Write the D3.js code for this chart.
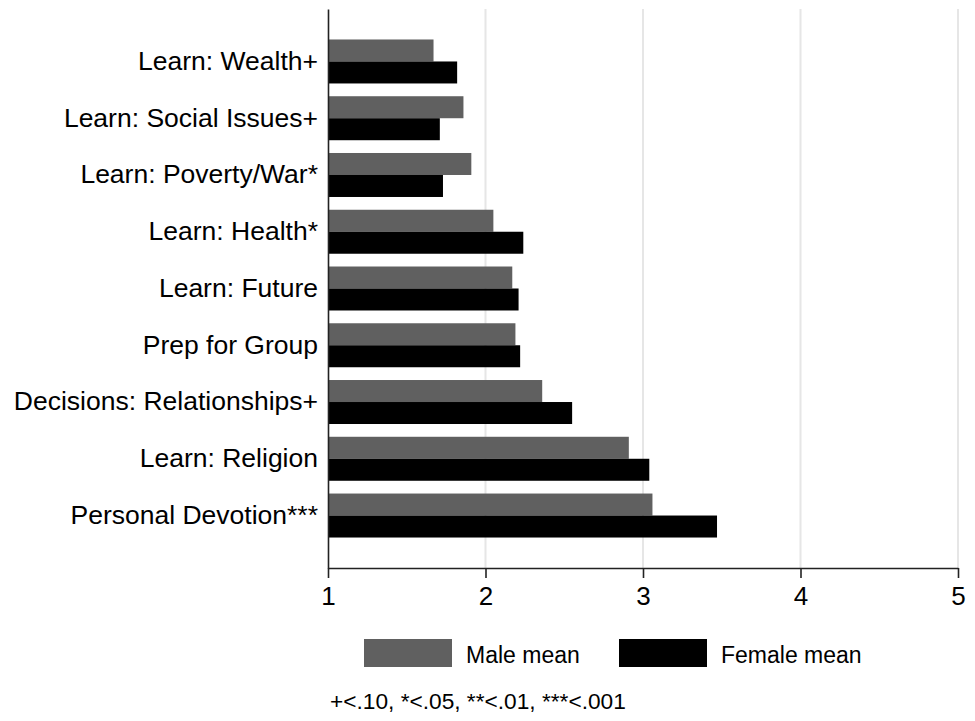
<!DOCTYPE html>
<html>
<head>
<meta charset="utf-8">
<script src="https://cdn.jsdelivr.net/npm/d3@7"></script>
<style>
  body { margin: 0; background: #fff; }
  text { font-family: "Liberation Sans", Arial, sans-serif; }
</style>
</head>
<body>
<div id="chart"></div>
<script>
// datos
const CATEGORIAS = ["Learn: Wealth+", "Learn: Social Issues+", "Learn: Poverty/War*", "Learn: Health*",
  "Learn: Future", "Prep for Group", "Decisions: Relationships+", "Learn: Religion", "Personal Devotion***"];
const MALE_MEAN = [1.67, 1.86, 1.91, 2.05, 2.17, 2.19, 2.36, 2.91, 3.06];
const FEMALE_MEAN = [1.82, 1.71, 1.73, 2.24, 2.21, 2.22, 2.55, 3.04, 3.47];
const X_TICKS = [1, 2, 3, 4, 5];
const SERIES = ["Male mean", "Female mean"];
const NOTA = "+<.10, *<.05, **<.01, ***<.001";

const WIDTH = 975, HEIGHT = 721;
const MARGIN = { top: 9, bottom: 153, left: 328, right: 17 };
const COLORES = ["#606060", "#000000"];

const svg = d3.select("#chart").append("svg").attr("width", WIDTH).attr("height", HEIGHT);

const x = d3.scaleLinear().domain([1, 5]).range([MARGIN.left, WIDTH - MARGIN.right]);
const y = d3.scaleBand().domain(CATEGORIAS)
  .range([MARGIN.top, HEIGHT - MARGIN.bottom])
  .paddingInner(0.225).paddingOuter(0.537);
const sub = d3.scaleBand().domain(SERIES).range([0, y.bandwidth()]);
const color = d3.scaleOrdinal().domain(SERIES).range(COLORES);

const datos = CATEGORIAS.map((c, i) => ({ cat: c, valores: [MALE_MEAN[i], FEMALE_MEAN[i]] }));

// grilla
svg.append("g").selectAll("line").data(X_TICKS.slice(1)).join("line")
  .attr("x1", d => x(d)).attr("x2", d => x(d))
  .attr("y1", MARGIN.top).attr("y2", HEIGHT - MARGIN.bottom)
  .attr("stroke", "#e6e6e6").attr("stroke-width", 2);

// barras
const grupos = svg.append("g").selectAll("g").data(datos).join("g")
  .attr("transform", d => `translate(0, ${y(d.cat)})`);
grupos.selectAll("rect").data(d => d.valores.map((v, j) => ({ serie: SERIES[j], v }))).join("rect")
  .attr("x", x(1))
  .attr("y", d => sub(d.serie))
  .attr("width", d => x(d.v) - x(1))
  .attr("height", sub.bandwidth())
  .attr("fill", d => color(d.serie));

// eje x
const ejeX = svg.append("g").attr("transform", `translate(0, ${HEIGHT - MARGIN.bottom})`)
  .call(d3.axisBottom(x).tickValues(X_TICKS).tickFormat(d3.format("d")).tickSize(10).tickPadding(9).tickSizeOuter(0));
ejeX.select(".domain").attr("stroke", "#222").attr("stroke-width", 1.6);
ejeX.selectAll(".tick line").attr("stroke", "#222").attr("stroke-width", 1.6);
ejeX.selectAll(".tick text").attr("font-size", 26).attr("fill", "#000")
  .attr("font-family", "Liberation Sans, Arial, sans-serif");

// eje y
const ejeY = svg.append("g").attr("transform", `translate(${MARGIN.left}, 0)`)
  .call(d3.axisLeft(y).tickSize(0).tickPadding(10));
ejeY.select(".domain").attr("stroke", "#222").attr("stroke-width", 1.6);
ejeY.selectAll(".tick text").attr("font-size", 26.5).attr("fill", "#000")
  .attr("font-family", "Liberation Sans, Arial, sans-serif");

// leyenda
const leyenda = svg.append("g").selectAll("g").data(SERIES).join("g")
  .attr("transform", (d, i) => `translate(${[364, 619][i]}, 639)`);
leyenda.append("rect").attr("width", 88).attr("height", 28).attr("fill", d => color(d));
leyenda.append("text").attr("x", 102).attr("y", 24).attr("font-size", 23).text(d => d);

// nota
svg.append("text").attr("x", 330).attr("y", 709).attr("font-size", 22.7).text(NOTA);
</script>
</body>
</html>
